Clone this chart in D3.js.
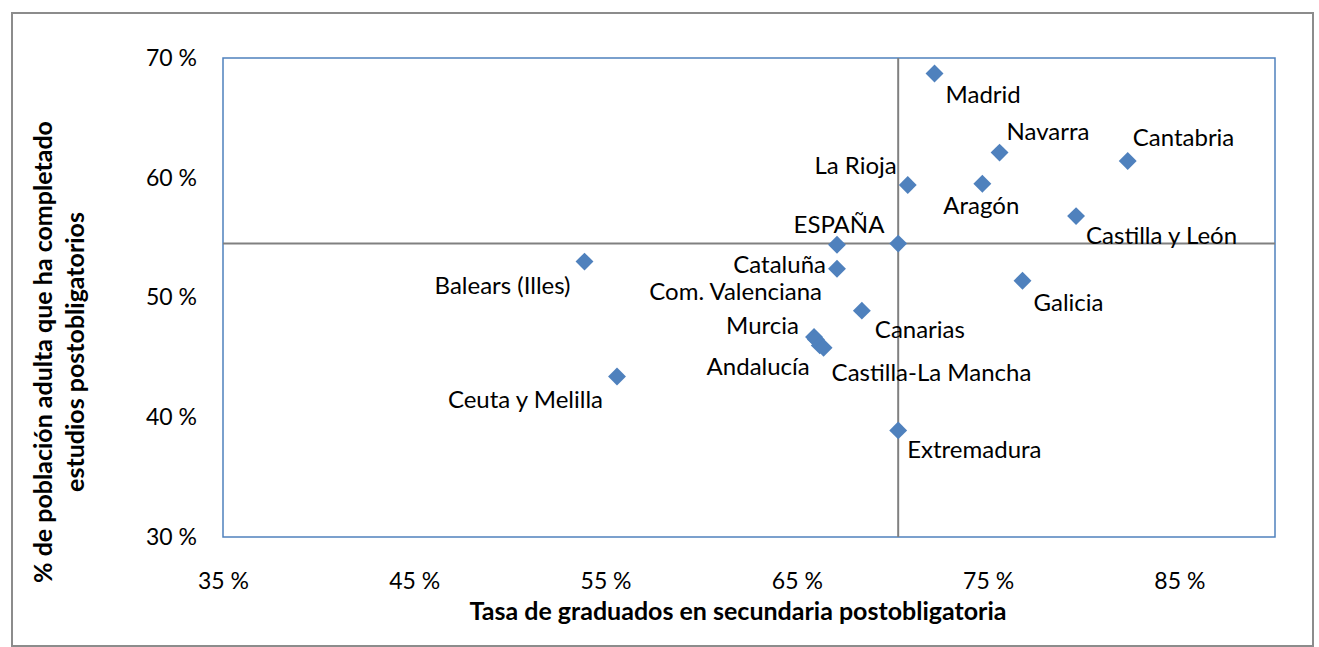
<!DOCTYPE html>
<html>
<head>
<meta charset="utf-8">
<title>Graduados y población adulta</title>
<script src="https://cdnjs.cloudflare.com/ajax/libs/d3/7.8.5/d3.min.js"></script>
<style>
  body { margin: 0; background: #fff; }
  svg text { font-family: Lato, "Open Sans", sans-serif; fill: #000; }
</style>
</head>
<body>
<svg id="chart" width="1319" height="647"></svg>
<script>
// datos
var regiones = ["Madrid", "Navarra", "Cantabria", "La Rioja", "Aragón", "Castilla y León",
    "ESPAÑA", "Balears (Illes)", "Cataluña", "Com. Valenciana", "Canarias", "Murcia",
    "Andalucía", "Castilla-La Mancha", "Ceuta y Melilla", "Galicia", "Extremadura"];
var tasaGraduados = [72.2, 75.6, 82.3, 70.8, 74.7, 79.6,
    67.1, 53.9, 67.1, 65.9, 68.4, 66.0,
    66.2, 66.4, 55.6, 76.8, 70.3];
var poblacionAdulta = [68.7, 62.1, 61.4, 59.4, 59.5, 56.8,
    54.4, 53.0, 52.4, 46.7, 48.9, 46.5,
    46.0, 45.8, 43.4, 51.4, 38.9];
// cruce de las líneas de referencia
var refX = 70.3, refY = 54.5;
var xTicks = [35, 45, 55, 65, 75, 85];
var yTicks = [30, 40, 50, 60, 70];

// colocación de etiquetas (anchor, dx, dy respecto al punto)
var etiquetas = {
    "Madrid": ["start", 11, 21],
    "Navarra": ["start", 7, -21],
    "Cantabria": ["start", 5, -23],
    "La Rioja": ["end", -11, -19],
    "Aragón": ["middle", -1, 22],
    "Castilla y León": ["start", 10, 20],
    "ESPAÑA": ["middle", 2, -20],
    "Balears (Illes)": ["end", -14, 24],
    "Cataluña": ["end", -11, -4],
    "Com. Valenciana": ["end", 8, -45],
    "Canarias": ["start", 13, 19],
    "Murcia": ["end", -17, -14],
    "Andalucía": ["end", -10, 21],
    "Castilla-La Mancha": ["start", 8, 25],
    "Ceuta y Melilla": ["end", -14, 23],
    "Galicia": ["start", 11, 22],
    "Extremadura": ["start", 9, 19]
};

var data = regiones.map(function (r, i) {
    return { nombre: r, x: tasaGraduados[i], y: poblacionAdulta[i] };
});

var svg = d3.select("#chart");
var m = { left: 223, top: 58, right: 1275, bottom: 537 };

var x = d3.scaleLinear().domain([35, 90]).range([m.left, m.right]);
var y = d3.scaleLinear().domain([30, 70]).range([m.bottom, m.top]);

// marco exterior
svg.append("rect")
    .attr("x", 12).attr("y", 13).attr("width", 1301).attr("height", 633)
    .attr("fill", "#fff").attr("stroke", "#8c8c8c").attr("stroke-width", 2);

// área de trazado
svg.append("rect")
    .attr("x", m.left).attr("y", m.top)
    .attr("width", m.right - m.left).attr("height", m.bottom - m.top)
    .attr("fill", "none").attr("stroke", "#4f81bd").attr("stroke-width", 1.5);

// ejes (solo etiquetas)
var xAxis = svg.append("g")
    .attr("transform", "translate(0," + (m.bottom + 44) + ")")
    .call(d3.axisBottom(x).tickValues(xTicks).tickSize(0).tickPadding(0)
        .tickFormat(function (d) { return d + " %"; }));
xAxis.select(".domain").remove();
xAxis.selectAll("text").attr("font-size", 23).attr("dy", "0.35em");

var yAxis = svg.append("g")
    .attr("transform", "translate(" + (m.left - 26) + ",0)")
    .call(d3.axisLeft(y).tickValues(yTicks).tickSize(0).tickPadding(0)
        .tickFormat(function (d) { return d + " %"; }));
yAxis.select(".domain").remove();
yAxis.selectAll("text").attr("font-size", 23);

// líneas de referencia
svg.append("line")
    .attr("x1", x(refX)).attr("x2", x(refX))
    .attr("y1", m.top).attr("y2", m.bottom)
    .attr("stroke", "#808080").attr("stroke-width", 2);
svg.append("line")
    .attr("x1", m.left).attr("x2", m.right)
    .attr("y1", y(refY)).attr("y2", y(refY))
    .attr("stroke", "#808080").attr("stroke-width", 2);

// puntos
var diamond = d3.symbol().type(d3.symbolSquare).size(160);
svg.append("g").selectAll("path")
    .data(data.concat([{ nombre: "", x: refX, y: refY }]))
    .enter().append("path")
    .attr("d", diamond)
    .attr("transform", function (d) {
        return "translate(" + x(d.x) + "," + y(d.y) + ") rotate(45)";
    })
    .attr("fill", "#4f81bd");

// etiquetas de datos
svg.append("g").selectAll("text")
    .data(data)
    .enter().append("text")
    .attr("x", function (d) { return x(d.x) + etiquetas[d.nombre][1]; })
    .attr("y", function (d) { return y(d.y) + etiquetas[d.nombre][2]; })
    .attr("dy", "0.35em")
    .attr("text-anchor", function (d) { return etiquetas[d.nombre][0]; })
    .attr("font-size", 24)
    .text(function (d) { return d.nombre; });

// títulos de ejes
svg.append("text")
    .attr("x", 738).attr("y", 611).attr("dy", "0.35em")
    .attr("text-anchor", "middle")
    .attr("font-size", 25).attr("font-weight", "bold")
    .text("Tasa de graduados en secundaria postobligatoria");

var yt = svg.append("text")
    .attr("transform", "translate(43,352) rotate(-90)")
    .attr("text-anchor", "middle")
    .attr("font-size", 25).attr("font-weight", "bold");
yt.append("tspan").attr("x", 0).attr("dy", "0.35em")
    .text("% de población adulta que ha completado");
yt.append("tspan").attr("x", 0).attr("dy", "1.28em")
    .text("estudios postobligatorios");
</script>
</body>
</html>
